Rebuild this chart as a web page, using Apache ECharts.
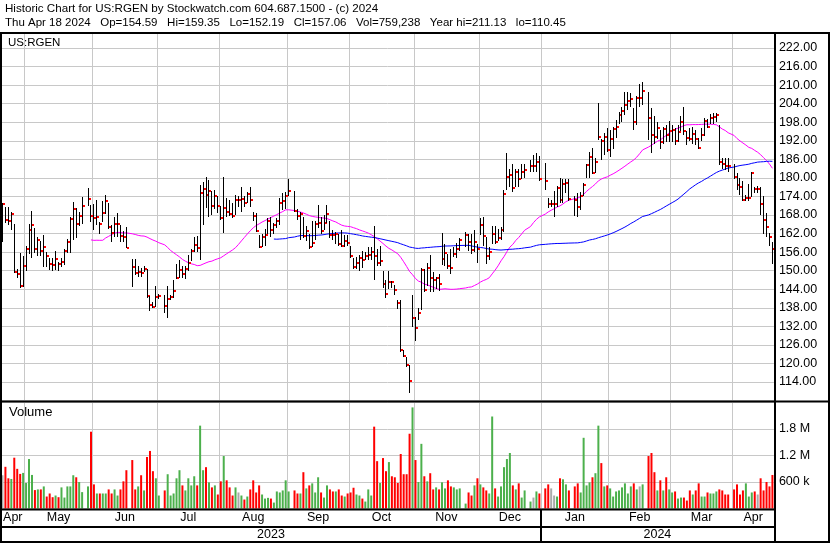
<!DOCTYPE html>
<html><head><meta charset="utf-8">
<script src="https://cdn.jsdelivr.net/npm/echarts@6/dist/echarts.min.js"></script>
<style>html,body{margin:0;padding:0;background:#fff}#c{width:830px;height:543px}</style>
</head><body><div id="c"></div><script>
// ---- data ----
const startDate = '2023-04-19';
const endDate = '2024-04-18';
const monthNames = ['Jan','Feb','Mar','Apr','May','Jun','Jul','Aug','Sep','Oct','Nov','Dec'];
const headerTitle = 'Historic Chart for US:RGEN by Stockwatch.com 604.687.1500 - (c) 2024';
const headerStats = ['Thu Apr 18 2024','Op=154.59','Hi=159.35','Lo=152.19','Cl=157.06','Vol=759,238','Year hi=211.13','lo=110.45'];
const symbolName = 'US:RGEN';
const priceTickValues = [222,216,210,204,198,192,186,180,174,168,162,156,150,144,138,132,126,120,114];
const volumeTickValues = [600,1200,1800];

const highs = [
172.0,170.5,170.5,169.0,165.0,150.5,155.7,154.8,158.0,165.0,
169.4,163.8,161.0,159.5,161.6,156.0,154.0,154.0,156.2,152.8,
154.0,157.0,160.2,167.5,172.2,170.3,169.0,173.9,null,176.8,
171.2,171.7,173.0,165.8,172.4,174.5,172.0,164.8,167.5,168.5,
164.8,162.9,164.1,null,153.8,153.8,151.5,150.9,151.6,150.5,
141.9,140.0,145.0,142.5,null,142.1,145.1,142.1,146.9,152.0,
153.5,151.5,151.5,155.0,157.0,160.8,161.2,177.7,178.8,180.3,
179.2,175.6,176.0,174.0,171.0,180.3,173.5,173.0,172.0,174.5,
174.0,177.0,174.0,175.5,177.0,169.1,168.7,161.5,162.0,163.5,
167.0,167.5,165.5,167.0,173.5,175.0,175.5,179.6,null,175.6,
170.0,169.1,167.5,164.5,162.0,166.0,166.0,171.2,167.5,168.0,
171.2,166.0,163.0,162.5,162.0,163.0,161.5,161.5,158.0,154.0,
154.5,155.0,156.5,156.0,157.5,157.5,164.4,157.0,158.0,150.0,
147.0,150.0,146.5,145.5,140.5,140.5,124.5,122.0,119.5,142.1,
135.1,137.8,150.9,150.5,152.5,155.1,149.5,148.0,149.0,162.2,
158.5,155.5,157.0,157.5,159.0,160.5,null,162.5,162.0,162.0,
163.0,158.5,167.0,167.5,161.0,157.5,164.5,164.5,163.5,164.0,
176.0,188.2,183.0,184.5,183.0,183.0,184.5,184.5,null,185.8,
187.5,188.2,187.0,null,184.8,173.5,173.0,175.6,177.5,180.0,
179.5,179.5,179.5,null,174.0,175.0,175.5,178.5,184.5,188.3,
189.8,186.5,204.1,192.5,194.5,196.0,195.5,196.5,198.7,201.4,
203.0,207.9,207.9,207.5,202.6,206.5,210.5,211.13,null,207.9,
202.5,200.0,198.0,195.5,196.5,197.0,198.5,197.0,196.0,197.0,
200.0,203.0,195.0,196.0,196.5,195.5,193.0,196.0,199.5,199.0,
200.5,201.0,201.0,197.1,186.5,186.5,186.5,null,184.5,181.5,
180.0,179.0,174.5,178.0,182.0,177.0,177.5,177.0,174.0,168.5,
162.3,159.35];

const lows = [
159.2,165.4,164.8,163.2,149.2,147.6,144.4,144.7,150.0,155.5,
154.1,155.7,154.6,154.6,151.2,151.2,150.2,149.8,150.2,149.8,
151.2,151.8,155.7,155.7,159.9,160.6,164.5,165.0,null,171.0,
165.8,163.2,164.8,161.8,165.8,168.2,163.4,159.4,161.0,161.0,
159.4,159.2,157.2,null,144.8,148.7,147.9,147.9,149.6,141.3,
137.0,138.0,138.2,140.8,null,136.2,134.8,140.5,141.0,147.3,
147.6,147.6,147.4,150.0,153.0,156.0,156.0,153.5,164.8,170.3,
167.2,168.0,170.0,168.5,166.5,162.3,167.5,167.8,167.0,168.0,
170.5,169.0,170.5,171.8,170.7,165.9,162.4,157.2,157.5,158.0,
162.0,160.8,162.0,163.8,164.8,169.6,170.0,174.0,null,169.0,
166.5,159.9,160.5,159.5,157.0,157.5,160.0,163.8,162.0,163.0,
165.4,160.5,160.0,158.5,158.0,157.5,157.5,158.0,154.0,150.5,
150.5,150.0,151.0,153.5,153.5,153.5,147.0,151.5,151.5,144.5,
141.0,144.0,144.5,142.0,137.5,123.8,122.0,119.0,110.45,131.9,
127.1,134.0,137.3,143.0,145.0,143.2,143.2,144.0,143.5,151.8,
151.5,150.5,149.0,154.5,154.0,156.5,null,157.5,156.5,155.5,
156.0,152.5,161.5,158.0,152.0,153.5,158.5,158.5,159.5,160.0,
162.6,176.1,177.0,175.5,177.0,177.0,179.5,180.0,null,182.0,
182.0,182.0,179.0,null,176.1,170.4,170.5,167.5,170.5,172.0,
172.0,175.0,172.5,null,167.8,167.5,169.5,174.0,180.0,180.0,
181.3,181.5,192.3,185.8,187.3,188.5,186.9,189.4,193.0,197.4,
198.0,200.3,202.0,203.0,195.5,197.0,203.0,203.5,null,192.3,
188.0,191.0,192.5,189.5,191.0,191.5,191.5,191.5,190.5,191.5,
195.0,194.0,190.5,192.0,191.0,190.5,189.5,192.0,193.5,196.0,
197.5,197.5,198.0,184.2,183.0,182.5,182.0,null,179.5,176.0,
174.5,172.5,172.5,172.5,173.9,175.0,175.0,168.0,162.0,161.0,
158.0,152.19];

const closes = [
171.5,166.3,165.9,168.3,149.7,148.8,145.1,151.5,157.0,163.2,
164.8,157.0,159.9,156.5,157.8,154.8,152.2,151.8,153.8,152.1,
152.9,156.5,159.4,166.7,170.1,165.2,167.8,171.0,null,173.2,
167.8,167.0,167.5,165.0,168.8,172.4,164.1,162.3,165.0,165.2,
161.3,161.0,157.4,null,151.3,149.4,149.7,149.4,150.6,141.8,
138.9,138.4,141.6,141.9,null,138.6,140.8,141.6,143.5,147.7,
150.2,149.0,150.6,152.4,156.5,158.4,157.4,175.2,176.5,174.6,
175.9,171.0,174.3,171.0,167.1,170.4,169.0,168.3,167.6,173.0,
173.0,173.3,172.0,174.9,172.9,167.8,162.8,157.7,161.0,161.6,
166.2,163.2,164.8,166.2,172.0,172.6,174.1,175.6,null,169.4,
167.8,168.4,161.2,162.8,157.8,159.1,165.2,165.5,162.9,165.5,
168.4,161.6,161.4,162.0,158.6,158.0,159.7,159.1,154.8,151.1,
152.5,154.1,153.5,154.8,155.1,156.1,154.9,152.6,153.2,145.7,
142.5,146.3,146.2,143.8,139.7,124.4,122.4,119.5,114.3,134.6,
131.6,136.4,150.3,143.8,150.9,147.6,147.0,147.6,145.8,153.8,
155.7,151.5,150.8,155.4,157.1,159.9,null,161.6,159.4,156.7,
159.3,157.1,164.8,161.2,154.6,156.0,162.0,159.3,160.6,163.0,
174.8,180.2,180.9,176.7,182.0,179.7,181.9,182.6,null,183.7,
183.7,185.1,179.7,null,179.0,171.7,171.7,171.7,176.8,172.7,
178.0,178.5,173.3,null,172.7,170.7,174.3,177.8,184.3,186.9,
181.7,185.1,193.2,192.0,193.2,189.1,192.7,195.9,196.4,200.3,
201.7,203.7,205.0,205.6,198.2,205.9,205.9,208.2,null,199.5,
193.9,193.3,196.1,191.6,195.8,194.0,195.3,195.5,192.0,194.9,
198.2,195.3,193.0,192.7,194.3,192.7,189.8,194.0,198.4,196.6,
199.4,199.8,200.2,185.0,184.5,184.0,183.7,null,180.3,177.7,
177.2,172.9,173.5,173.6,181.7,176.3,176.3,171.5,166.3,164.2,
161.0,157.06];

// volume in thousands of shares
const volumes = [
753,944,684,669,1150,898,783,806,577,1120,
760,417,432,432,500,271,340,256,294,256,
478,248,500,500,753,707,600,371,null,500,
1739,546,340,340,340,340,432,340,432,294,
432,615,867,null,1097,432,500,753,409,1166,
1303,845,684,294,null,409,776,294,340,684,
867,523,409,684,523,730,523,1876,867,936,
592,478,523,317,615,1188,638,478,294,478,
363,294,203,271,432,638,363,523,317,225,
241,225,134,386,363,409,638,386,null,409,
340,340,822,455,523,569,363,707,363,248,
523,432,386,386,432,294,271,340,363,470,
317,294,225,157,432,294,1853,1072,577,1142,
845,1051,730,707,577,1234,776,776,1693,2289,
1097,600,1464,730,615,799,432,478,432,592,
455,638,500,478,432,455,null,111,363,294,
523,684,546,478,409,340,2083,455,271,500,
936,1120,1257,523,432,569,248,409,null,157,
248,386,340,null,455,546,455,294,271,684,
661,546,409,null,500,569,363,1601,523,592,
707,799,1876,1028,500,523,455,271,386,409,
478,569,340,500,569,432,500,546,null,1188,
1257,822,409,638,409,707,432,363,386,225,
248,248,180,409,317,409,569,271,271,363,
340,340,386,432,409,317,317,null,432,546,
317,409,569,271,363,386,317,684,409,600,
500,759.238];

// ---- derived structures ----
const dates = [];
for (let t = Date.parse(startDate + 'T00:00:00Z'); t <= Date.parse(endDate + 'T00:00:00Z'); t += 86400000) {
  const d = new Date(t); const w = d.getUTCDay();
  if (w > 0 && w < 6) dates.push(d.toISOString().slice(0, 10));
}
const months = [], years = [];
dates.forEach((d, i) => {
  const mk = d.slice(0, 7), yk = d.slice(0, 4);
  if (!months.length || months[months.length - 1].key !== mk) months.push({key: mk, start: i, end: i, label: monthNames[+d.slice(5, 7) - 1]});
  else months[months.length - 1].end = i;
  if (!years.length || years[years.length - 1].key !== yk) years.push({key: yk, start: i, end: i, label: yk});
  else years[years.length - 1].end = i;
});
const monthStartIdx = new Set(months.slice(1).map(m => m.start));

function sma(n) {
  const out = closes.map(() => null), buf = [];
  closes.forEach((c, i) => {
    if (c == null) return;
    buf.push(c); if (buf.length > n) buf.shift();
    if (buf.length === n) out[i] = +(buf.reduce((a, b) => a + b, 0) / n).toFixed(3);
  });
  return out;
}
const ma30 = sma(30), ma90 = sma(90);

const hlcData = [];
dates.forEach((d, i) => { if (closes[i] != null) hlcData.push([i, highs[i], lows[i], closes[i]]); });

function prevClose(i) { for (let j = i - 1; j >= 0; j--) if (closes[j] != null) return closes[j]; return null; }
const UP = '#4cb04c', DOWN = '#ff0000', FLAT = '#aaaaaa', GRID = '#c8c8c8';
const FONT = '"Liberation Sans", Arial, sans-serif';

const chart = echarts.init(document.getElementById('c'), null, {renderer: 'canvas'});
const gridLeft = 1, gridW = 772.9;

const xAxisBase = (gi) => ({
  type: 'category', gridIndex: gi, data: dates, boundaryGap: true,
  axisLine: {show: false}, axisTick: {show: false}, axisLabel: {show: false},
  splitLine: {show: true, interval: (idx) => monthStartIdx.has(idx), lineStyle: {color: GRID, width: 1}}
});

const graphics = [
  {type: 'text', left: 5, top: 3, style: {text: headerTitle, font: '11.6px ' + FONT, fill: '#000'}},
  {type: 'text', left: 5, top: 17, style: {text: headerStats.join('   '), font: '11.5px ' + FONT, fill: '#000'}}
];
const blk = (x, y, w, h) => ({type: 'rect', shape: {x, y, width: w, height: h}, style: {fill: '#000'}, z: 100, silent: true});
graphics.push(
  blk(0, 32, 830, 2), blk(0, 32, 2, 511), blk(774, 32, 2, 511), blk(828, 32, 2, 511),
  blk(0, 400.5, 830, 2), blk(0, 508.5, 776, 2), blk(0, 526, 776, 2), blk(0, 541, 830, 2),
  {type: 'text', left: 8, top: 37, style: {text: symbolName, font: '11.5px ' + FONT, fill: '#000'}, z: 101},
  {type: 'text', left: 9, top: 406, style: {text: 'Volume', font: '13px ' + FONT, fill: '#000'}, z: 101}
);

const option = {
  animation: false,
  backgroundColor: '#fff',
  grid: [
    {left: gridLeft, top: 33.15, width: gridW, height: 367.4},
    {left: gridLeft, top: 401, width: gridW, height: 107.5}
  ],
  xAxis: [xAxisBase(0), xAxisBase(1)],
  yAxis: [
    {type: 'value', gridIndex: 0, position: 'right', min: 108, max: 226.8, interval: 6,
     axisLine: {show: false}, axisTick: {show: false},
     axisLabel: {margin: 5, color: '#000', fontFamily: FONT, fontSize: 12.5,
       formatter: v => priceTickValues.some(t => Math.abs(t - v) < 1e-6) ? v.toFixed(2) : ''},
     splitLine: {show: true, lineStyle: {color: GRID, width: 1}}},
    {type: 'value', gridIndex: 1, position: 'right', min: 0, max: 2434, interval: 600,
     axisLine: {show: false}, axisTick: {show: false},
     axisLabel: {margin: 5, color: '#000', fontFamily: FONT, fontSize: 12.5,
       formatter: v => volumeTickValues.some(t => Math.abs(t - v) < 1e-6) ? (v >= 1000 ? (v / 1000).toFixed(1) + ' M' : v + ' k') : ''},
     splitLine: {show: true, lineStyle: {color: GRID, width: 1}}}
  ],
  series: [
    {type: 'line', name: 'MA30', xAxisIndex: 0, yAxisIndex: 0, data: ma30, showSymbol: false, symbol: 'none',
     connectNulls: true, lineStyle: {color: '#ff00ff', width: 1}, z: 2, silent: true},
    {type: 'line', name: 'MA90', xAxisIndex: 0, yAxisIndex: 0, data: ma90, showSymbol: false, symbol: 'none',
     connectNulls: true, lineStyle: {color: '#0000ff', width: 1}, z: 2, silent: true},
    {type: 'custom', name: 'HLC', xAxisIndex: 0, yAxisIndex: 0, data: hlcData, encode: {x: 0, y: [1, 2, 3]}, z: 3,
     renderItem: (params, api) => {
       const i = api.value(0);
       const pH = api.coord([i, api.value(1)]), pL = api.coord([i, api.value(2)]), pC = api.coord([i, api.value(3)]);
       const x = Math.floor(pH[0]) + 0.5;
       let y1 = Math.round(pH[1]), y2 = Math.round(pL[1]); if (y2 - y1 < 1) y2 = y1 + 1;
       const cy = Math.round(pC[1]);
       return {type: 'group', children: [
         {type: 'line', shape: {x1: x, y1: y1, x2: x, y2: y2}, style: {stroke: '#000', lineWidth: 1}},
         {type: 'rect', shape: {x: x + 0.5, y: cy - 1, width: 2, height: 2}, style: {fill: '#ff0000'}}
       ]};
     }},
    {type: 'bar', name: 'Volume', xAxisIndex: 1, yAxisIndex: 1, data: volumes, barWidth: 2, z: 3,
     itemStyle: {color: (p) => {
       const i = p.dataIndex, c = closes[i], pc = prevClose(i);
       if (pc == null || c === pc) return FLAT; return c > pc ? UP : DOWN; }}},
    {type: 'custom', name: 'months', xAxisIndex: 1, yAxisIndex: 1, data: months.map(m => [m.start, m.end, 0]),
     encode: {x: [0, 1], y: 2}, clip: false, silent: true, z: 50,
     renderItem: (params, api) => {
       const a = api.coord([api.value(0), 0]), b = api.coord([api.value(1), 0]);
       return {type: 'text', style: {text: months[params.dataIndex].label, x: (a[0] + b[0]) / 2, y: 517.5,
         textAlign: 'center', textVerticalAlign: 'middle', font: '12.5px ' + FONT, fill: '#000'}};
     }},
    {type: 'custom', name: 'years', xAxisIndex: 1, yAxisIndex: 1, data: years.map(m => [m.start, m.end, 0]),
     encode: {x: [0, 1], y: 2}, clip: false, silent: true, z: 50,
     renderItem: (params, api) => {
       const a = api.coord([api.value(0), 0]), b = api.coord([api.value(1), 0]);
       const bw = api.size([1, 0])[0];
       const children = [{type: 'text', style: {text: years[params.dataIndex].label, x: (a[0] + b[0]) / 2, y: 535,
         textAlign: 'center', textVerticalAlign: 'middle', font: '12.5px ' + FONT, fill: '#000'}}];
       if (params.dataIndex > 0) {
         const xl = Math.round(a[0] - bw / 2);
         children.push({type: 'rect', shape: {x: xl - 1, y: 510, width: 2, height: 31}, style: {fill: '#000'}});
       }
       return {type: 'group', children};
     }}
  ],
  graphic: graphics
};
chart.setOption(option);
</script></body></html>
